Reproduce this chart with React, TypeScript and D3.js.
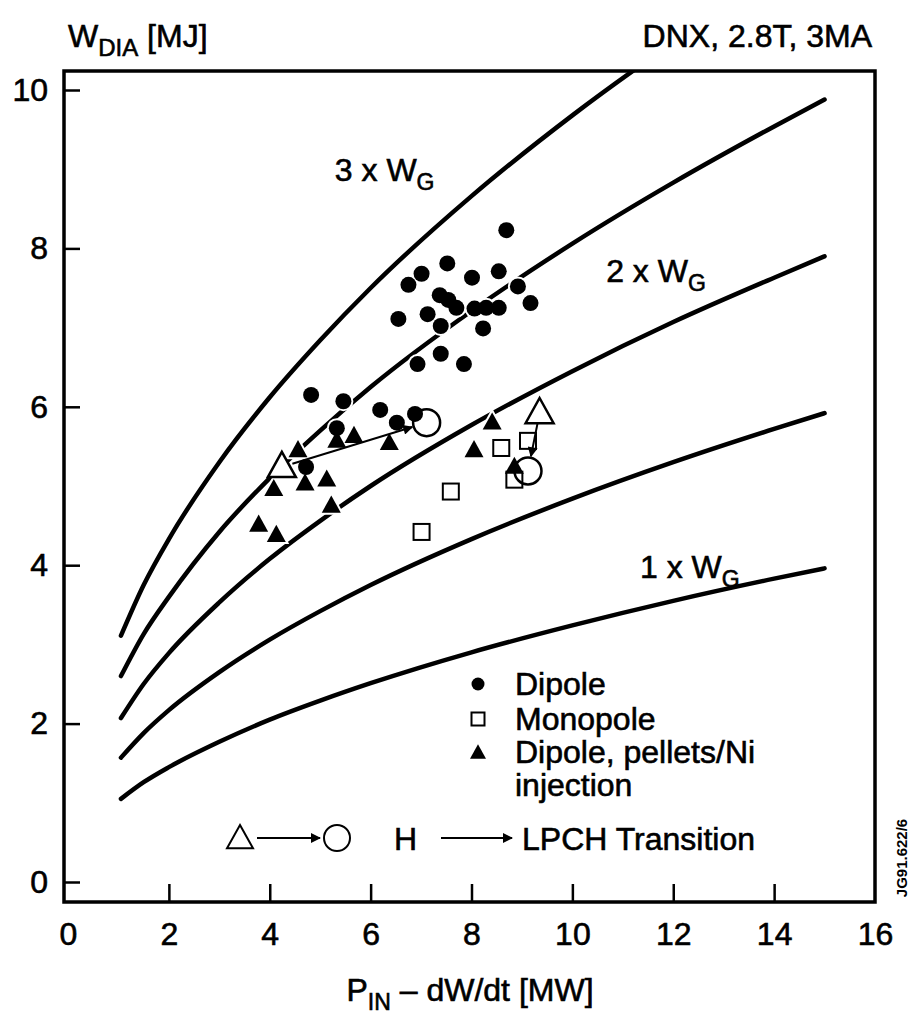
import React, { useEffect, useRef } from 'react'
import * as d3 from 'd3'

const WIDTH = 912
const HEIGHT = 1017
const FONT = '"Liberation Sans", Arial, Helvetica, sans-serif'

const xTicks = [0, 2, 4, 6, 8, 10, 12, 14, 16]
const yTicks = [0, 2, 4, 6, 8, 10]

// reference curves (multiples of W_G) at these P values
const curveP = [1.05, 1.5, 2, 3, 4, 5, 6, 8, 10, 12, 14, 15]
const curve3x = [3.11, 3.75, 4.33, 5.3, 6.12, 6.84, 7.5, 8.66, 9.68, 10.6, 11.45, 11.85]
const curve25x = [2.6, 3.13, 3.6, 4.42, 5.1, 5.7, 6.25, 7.21, 8.06, 8.83, 9.54, 9.88]
const curve2x = [2.07, 2.5, 2.89, 3.53, 4.08, 4.56, 5.0, 5.77, 6.45, 7.07, 7.63, 7.9]
const curve15x = [1.57, 1.88, 2.17, 2.65, 3.06, 3.42, 3.75, 4.33, 4.84, 5.3, 5.72, 5.92]
const curve1x = [1.05, 1.26, 1.45, 1.77, 2.05, 2.29, 2.51, 2.9, 3.24, 3.55, 3.83, 3.96]

// Dipole (filled circles)
const dipoleP = [8.69, 7.52, 7.01, 6.75, 8.01, 8.54, 8.92, 9.17, 7.37, 7.54, 7.7, 8.06, 8.29, 8.54,
  6.55, 7.13, 7.39, 8.23, 7.39, 6.93, 7.85, 4.82, 5.46, 6.19, 6.52, 6.88, 5.33, 4.72]
const dipoleW = [8.23, 7.81, 7.68, 7.54, 7.63, 7.71, 7.52, 7.31, 7.41, 7.35, 7.25, 7.24, 7.25, 7.25,
  7.11, 7.17, 7.02, 6.99, 6.67, 6.54, 6.54, 6.15, 6.07, 5.96, 5.8, 5.91, 5.73, 5.24]

// Monopole (open squares)
const monoP = [8.59, 9.12, 8.85, 7.59, 7.01]
const monoW = [5.48, 5.57, 5.08, 4.93, 4.42]

// Dipole, pellets/Ni injection (filled triangles)
const pelletP = [5.33, 5.67, 6.37, 4.56, 4.08, 4.7, 5.13, 3.78, 4.13, 5.22, 8.41, 8.05, 8.85]
const pelletW = [5.57, 5.63, 5.54, 5.45, 4.96, 5.03, 5.08, 4.51, 4.38, 4.75, 5.8, 5.45, 5.24]

// H -> LPCH transitions: open triangle before, open circle after
const transFromP = [4.24, 9.35]
const transFromW = [5.24, 5.92]
const transToP = [7.11, 9.12]
const transToW = [5.8, 5.19]

const curveLabels = ['3 x W', '2 x W', '1 x W']
const curveLabelP = [5.29, 10.67, 11.34]
const curveLabelW = [8.85, 7.58, 3.84]

const legendLabels = ['Dipole', 'Monopole', 'Dipole, pellets/Ni', 'injection']

const triPath = (cx: number, cy: number, w: number) => {
  const h = w * 0.9
  return `M${cx},${cy - h * 0.6}L${cx + w / 2},${cy + h * 0.4}L${cx - w / 2},${cy + h * 0.4}Z`
}

const App = () => {
  const ref = useRef<SVGSVGElement>(null)

  useEffect(() => {
    const svg = d3.select(ref.current)
    svg.selectAll('*').remove()

    const frame = { left: 64, right: 875, top: 71, bottom: 902 }
    const x = d3.scaleLinear().domain([0, 16]).range([68, 875])
    const y = d3.scaleLinear().domain([0, 10]).range([882, 90])

    const defs = svg.append('defs')
    defs.append('clipPath').attr('id', 'plotclip')
      .append('rect')
      .attr('x', frame.left).attr('y', frame.top)
      .attr('width', frame.right - frame.left).attr('height', frame.bottom - frame.top)

    defs.append('marker')
      .attr('id', 'head')
      .attr('viewBox', '0 0 10 10')
      .attr('refX', 9).attr('refY', 5)
      .attr('markerWidth', 6).attr('markerHeight', 5)
      .attr('markerUnits', 'strokeWidth')
      .attr('orient', 'auto')
      .append('path').attr('d', 'M0,0L10,5L0,10Z').attr('fill', '#000')

    const textStyle = (g: any) => g
      .attr('fill', '#000')
      .attr('stroke', '#000').attr('stroke-width', 0.6)
      .style('font', `32px ${FONT}`)

    // axes
    const yAxis = d3.axisLeft(y).tickValues(yTicks).tickSize(-16).tickPadding(16)
    svg.append('g')
      .attr('transform', `translate(${frame.left},0)`)
      .call(yAxis)
      .call(g => g.select('.domain').remove())
      .call(g => g.selectAll('line').attr('stroke', '#000').attr('stroke-width', 2.5))
      .call(g => textStyle(g.selectAll('text')))

    const xAxis = d3.axisBottom(x).tickValues(xTicks).tickSize(-18).tickPadding(20)
    svg.append('g')
      .attr('transform', `translate(0,${frame.bottom})`)
      .call(xAxis)
      .call(g => g.select('.domain').remove())
      .call(g => g.selectAll('.tick').filter((d: any) => d === 0 || d === 16).select('line').remove())
      .call(g => g.selectAll('line').attr('stroke', '#000').attr('stroke-width', 2.5))
      .call(g => textStyle(g.selectAll('text')))

    svg.append('rect')
      .attr('x', frame.left).attr('y', frame.top)
      .attr('width', frame.right - frame.left).attr('height', frame.bottom - frame.top)
      .attr('fill', 'none').attr('stroke', '#000').attr('stroke-width', 3.5)

    // curves
    const line = d3.line<number>()
      .x((d, i) => x(curveP[i]))
      .y(d => y(d))
      .curve(d3.curveMonotoneX)

    const curves = svg.append('g').attr('clip-path', 'url(#plotclip)')
    ;[curve3x, curve25x, curve2x, curve15x, curve1x].forEach(c => {
      curves.append('path')
        .attr('d', line(c))
        .attr('fill', 'none')
        .attr('stroke', '#000')
        .attr('stroke-width', 4.5)
        .attr('stroke-linecap', 'round')
    })

    const dipole = dipoleP.map((p, i) => [x(p), y(dipoleW[i])])
    const mono = monoP.map((p, i) => [x(p), y(monoW[i])])
    const pellet = pelletP.map((p, i) => [x(p), y(pelletW[i])])
    const from = transFromP.map((p, i) => [x(p), y(transFromW[i])])
    const to = transToP.map((p, i) => [x(p), y(transToW[i])])

    // white halo under the markers
    const halo = svg.append('g').attr('fill', '#fff').attr('stroke', '#fff').attr('stroke-width', 4)
    halo.selectAll('.hd').data(dipole).join('circle')
      .attr('cx', d => d[0]).attr('cy', d => d[1]).attr('r', 8)
    halo.selectAll('.hm').data(mono).join('rect')
      .attr('x', d => d[0] - 8).attr('y', d => d[1] - 8).attr('width', 16).attr('height', 16)
    halo.selectAll('.hp').data(pellet).join('path')
      .attr('d', d => triPath(d[0], d[1], 19))

    // markers
    const marks = svg.append('g')
    marks.selectAll('.dip').data(dipole).join('circle')
      .attr('cx', d => d[0]).attr('cy', d => d[1]).attr('r', 8).attr('fill', '#000')
    marks.selectAll('.mon').data(mono).join('rect')
      .attr('x', d => d[0] - 8).attr('y', d => d[1] - 8).attr('width', 16).attr('height', 16)
      .attr('fill', '#fff').attr('stroke', '#000').attr('stroke-width', 2)
    marks.selectAll('.pel').data(pellet).join('path')
      .attr('d', d => triPath(d[0], d[1], 19)).attr('fill', '#000')

    // transitions
    from.forEach((f, i) => {
      const t = to[i]
      const dx = t[0] - f[0], dy = t[1] - f[1]
      const len = Math.hypot(dx, dy)
      const ux = dx / len, uy = dy / len
      marks.append('line')
        .attr('x1', f[0] + ux * 11).attr('y1', f[1] + uy * 11)
        .attr('x2', t[0] - ux * 15).attr('y2', t[1] - uy * 15)
        .attr('stroke', '#000').attr('stroke-width', 2)
        .attr('marker-end', 'url(#head)')
      marks.append('path')
        .attr('d', triPath(f[0], f[1], 28))
        .attr('fill', '#fff').attr('stroke', '#000').attr('stroke-width', 2.5)
      marks.append('circle')
        .attr('cx', t[0]).attr('cy', t[1]).attr('r', 13.5)
        .attr('fill', 'none').attr('stroke', '#000').attr('stroke-width', 2.5)
    })

    // curve labels
    curveLabels.forEach((lab, i) => {
      const t = svg.append('text')
        .attr('x', x(curveLabelP[i])).attr('y', y(curveLabelW[i]))
        .call(textStyle)
      t.append('tspan').text(lab)
      t.append('tspan').attr('dy', 9).style('font-size', '23px').text('G')
    })

    // titles
    const yt = svg.append('text').attr('x', 68).attr('y', 47).call(textStyle)
    yt.append('tspan').text('W')
    yt.append('tspan').attr('dy', 9).style('font-size', '24px').text('DIA')
    yt.append('tspan').attr('dy', -9).text(' [MJ]')

    svg.append('text')
      .attr('x', 872).attr('y', 47).attr('text-anchor', 'end')
      .call(textStyle)
      .text('DNX, 2.8T, 3MA')

    const xt = svg.append('text').attr('x', 470).attr('y', 1001).attr('text-anchor', 'middle')
      .call(textStyle)
    xt.append('tspan').text('P')
    xt.append('tspan').attr('dy', 9).style('font-size', '23px').text('IN')
    xt.append('tspan').attr('dy', -9).text(' \u2013 dW/dt [MW]')

    svg.append('text')
      .attr('transform', 'translate(907,858) rotate(-90)')
      .attr('text-anchor', 'middle')
      .style('font', `bold 15px ${FONT}`)
      .text('JG91.622/6')

    // legend
    const lg = svg.append('g')
    const lx = 478
    const ly = [684, 719, 752]
    lg.append('circle').attr('cx', lx).attr('cy', ly[0]).attr('r', 6.5).attr('fill', '#000')
    lg.append('rect').attr('x', lx - 6.5).attr('y', ly[1] - 6.5).attr('width', 13).attr('height', 13)
      .attr('fill', '#fff').attr('stroke', '#000').attr('stroke-width', 2)
    lg.append('path').attr('d', triPath(lx, ly[2] + 1, 16)).attr('fill', '#000')
    const baselines = [695, 730, 763, 796]
    legendLabels.forEach((lab, i) => {
      lg.append('text').attr('x', 515).attr('y', baselines[i])
        .call(textStyle).text(lab)
    })

    const by = 838
    lg.append('path').attr('d', triPath(240, by + 1, 26))
      .attr('fill', '#fff').attr('stroke', '#000').attr('stroke-width', 2)
    lg.append('line').attr('x1', 257).attr('y1', by).attr('x2', 320).attr('y2', by)
      .attr('stroke', '#000').attr('stroke-width', 2).attr('marker-end', 'url(#head)')
    lg.append('circle').attr('cx', 337).attr('cy', by).attr('r', 13)
      .attr('fill', 'none').attr('stroke', '#000').attr('stroke-width', 2)
    lg.append('text').attr('x', 394).attr('y', by + 12).call(textStyle).text('H')
    lg.append('line').attr('x1', 441).attr('y1', by).attr('x2', 512).attr('y2', by)
      .attr('stroke', '#000').attr('stroke-width', 2).attr('marker-end', 'url(#head)')
    lg.append('text').attr('x', 522).attr('y', by + 12).call(textStyle).text('LPCH Transition')
  }, [])

  return (
    <svg
      ref={ref}
      width={WIDTH}
      height={HEIGHT}
      style={{ position: 'absolute', left: 0, top: 0, background: '#fff', display: 'block' }}
    />
  )
}

export default App
